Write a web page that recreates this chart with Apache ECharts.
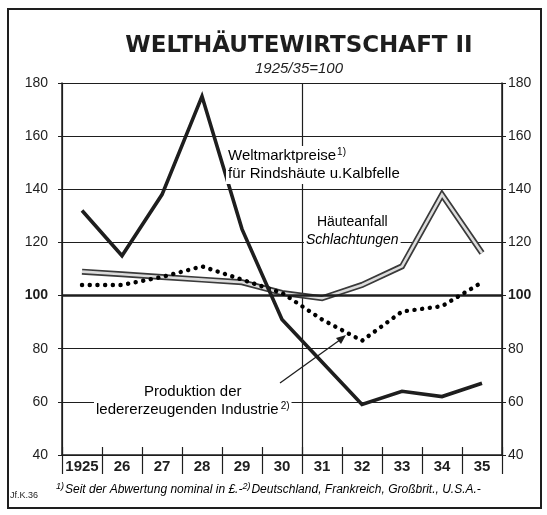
<!DOCTYPE html>
<html>
<head>
<meta charset="utf-8">
<script src="https://cdn.jsdelivr.net/npm/echarts@6/dist/echarts.min.js"></script>
<style>
  html, body { margin: 0; padding: 0; background: #fff; }
  #chart { width: 547px; height: 515px; }
</style>
</head>
<body>
<div id="chart"></div>
<script>
// years 1925..1935, index 1925/35 = 100
const years = ['1925', '26', '27', '28', '29', '30', '31', '32', '33', '34', '35']
// Weltmarktpreise für Rindshäute u. Kalbfelle
const preise = [132, 115, 138, 175, 125, 91, 75, 59, 64, 62, 67]
// Häuteanfall (Schlachtungen)
const haeute = [109, 108, 107, 106, 105, 101, 99, 104, 111, 138, 116]
// Produktion der ledererzeugenden Industrie
const produktion = [104, 104, 107, 111, 106, 101, 91, 83, 94, 96, 105]
const yTicks = { min: 40, max: 180, step: 20 }

const ink = '#1e1e1e'
const font = 'Liberation Sans'

const chart = echarts.init(document.getElementById('chart'))

const yLabel = {
  color: ink,
  fontFamily: font,
  fontSize: 14,
  formatter: (v) => (v === 100 ? '{b|100}' : String(v)),
  rich: { b: { fontWeight: 'bold', fontSize: 14, fontFamily: font, color: ink } },
}

const option = {
  backgroundColor: '#fff',
  animation: false,
  title: {
    text: 'WELTHÄUTEWIRTSCHAFT II',
    subtext: '1925/35=100',
    left: 294,
    top: 30,
    textAlign: 'center',
    itemGap: 3,
    textStyle: { fontFamily: 'DejaVu Sans', fontWeight: 'bold', fontSize: 23, color: ink },
    subtextStyle: { fontFamily: font, fontStyle: 'italic', fontSize: 15, color: ink },
  },
  grid: { left: 62, right: 45, top: 83, bottom: 60 },
  xAxis: [
    {
      type: 'category',
      data: years,
      boundaryGap: true,
      axisLine: { lineStyle: { color: ink, width: 1.5 } },
      axisTick: { show: true, interval: 0, length: 19, lineStyle: { color: ink, width: 1.2 } },
      axisLabel: { interval: 0, color: ink, fontFamily: font, fontWeight: 'bold', fontSize: 15, margin: 4 },
      splitLine: { show: false },
    },
    {
      type: 'category',
      data: years,
      position: 'bottom',
      boundaryGap: true,
      axisLine: { show: false },
      axisTick: { show: true, interval: 0, inside: true, length: 8, lineStyle: { color: ink, width: 1.2 } },
      axisLabel: { show: false },
      splitLine: { show: false },
    },
    {
      // hidden helper axis: one vertical divider between 1930 and 1931
      type: 'value',
      min: 0,
      max: 11,
      interval: 6,
      position: 'top',
      axisLine: { show: false },
      axisTick: { show: false },
      axisLabel: { show: false },
      splitLine: { show: true, lineStyle: { color: ink, width: 1.2 } },
    },
  ],
  yAxis: [
    {
      type: 'value',
      min: yTicks.min,
      max: yTicks.max,
      interval: yTicks.step,
      position: 'left',
      axisLine: { show: true, lineStyle: { color: ink, width: 1.5 } },
      axisTick: { show: true, length: 4, lineStyle: { color: ink } },
      axisLabel: Object.assign({ margin: 14 }, yLabel),
      splitLine: { show: true, lineStyle: { color: ink, width: 1.1 } },
    },
    {
      type: 'value',
      min: yTicks.min,
      max: yTicks.max,
      interval: yTicks.step,
      position: 'right',
      axisLine: { show: true, lineStyle: { color: ink, width: 1.5 } },
      axisTick: { show: true, length: 4, lineStyle: { color: ink } },
      axisLabel: Object.assign({ margin: 6 }, yLabel),
      splitLine: { show: false },
    },
  ],
  series: [
    {
      name: 'base100',
      type: 'line',
      data: [],
      markLine: {
        silent: true,
        symbol: 'none',
        label: { show: false },
        lineStyle: { color: ink, width: 2.6, type: 'solid' },
        data: [{ yAxis: 100 }],
      },
    },
    {
      name: 'Häuteanfall',
      type: 'line',
      data: haeute,
      symbol: 'none',
      z: 3,
      lineStyle: { color: '#3a3a3a', width: 6, join: 'miter' },
    },
    {
      name: 'Häuteanfall innen',
      type: 'line',
      data: haeute,
      symbol: 'none',
      z: 4,
      lineStyle: { color: '#dcdcdc', width: 2.6, join: 'miter' },
    },
    {
      name: 'Produktion',
      type: 'line',
      data: produktion,
      symbol: 'none',
      z: 5,
      lineStyle: { color: '#000', width: 4.4, type: [0.1, 7.6], cap: 'round' },
    },
    {
      name: 'Weltmarktpreise',
      type: 'line',
      data: preise,
      symbol: 'none',
      z: 6,
      lineStyle: { color: ink, width: 3.6, join: 'miter' },
    },
  ],
  graphic: [
    // outer frame
    { type: 'rect', shape: { x: 8, y: 9, width: 533, height: 499 }, style: { fill: 'none', stroke: ink, lineWidth: 2 }, silent: true },
    {
      type: 'text', left: 226, top: 146, z: 10,
      style: {
        text: '{a|Weltmarktpreise}{s|1)}\n{a|für Rindshäute u.Kalbfelle}',
        backgroundColor: '#fff', padding: [1, 2],
        rich: {
          a: { fontFamily: font, fontSize: 15, color: ink, lineHeight: 18 },
          s: { fontFamily: font, fontSize: 10, color: ink, verticalAlign: 'top', lineHeight: 18, padding: [0, 0, 8, 1] },
        },
      },
    },
    {
      type: 'text', left: 304, top: 212, z: 10,
      style: {
        text: '{a|Häuteanfall}\n{i|Schlachtungen}',
        backgroundColor: '#fff', padding: [1, 2],
        align: 'center',
        rich: {
          a: { fontFamily: font, fontSize: 14, color: ink, lineHeight: 18, align: 'center' },
          i: { fontFamily: font, fontSize: 14, fontStyle: 'italic', color: ink, lineHeight: 18, align: 'center' },
        },
      },
    },
    {
      type: 'text', left: 94, top: 382, z: 10,
      style: {
        text: '{a|Produktion der}\n{a|ledererzeugenden Industrie}{s|2)}',
        backgroundColor: '#fff', padding: [1, 2],
        align: 'center',
        rich: {
          a: { fontFamily: font, fontSize: 15, color: ink, lineHeight: 18, align: 'center' },
          s: { fontFamily: font, fontSize: 10, color: ink, lineHeight: 18, padding: [0, 0, 8, 2] },
        },
      },
    },
    // arrow to the production curve
    { type: 'line', z: 10, shape: { x1: 280, y1: 383, x2: 344, y2: 337 }, style: { stroke: ink, lineWidth: 1.3 } },
    { type: 'polygon', z: 10, shape: { points: [[346, 335], [336, 338], [341, 344]] }, style: { fill: ink } },
    {
      type: 'text', left: 10, top: 491, z: 10,
      style: { text: 'Jf.K.36', fontFamily: font, fontSize: 9, fill: ink },
    },
    {
      type: 'text', left: 56, top: 482, z: 10,
      style: {
        text: '{s|1)}{a|Seit der Abwertung nominal in £.-}{s|2)}{a|Deutschland, Frankreich, Großbrit., U.S.A.-}',
        rich: {
          a: { fontFamily: font, fontSize: 12, fontStyle: 'italic', color: ink, lineHeight: 16 },
          s: { fontFamily: font, fontSize: 9, fontStyle: 'italic', color: ink, lineHeight: 16, padding: [0, 1, 6, 0] },
        },
      },
    },
  ],
}

chart.setOption(option)
</script>
</body>
</html>
